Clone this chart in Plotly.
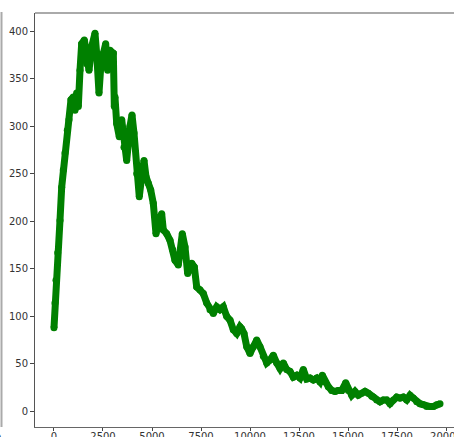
import plotly.graph_objects as go

x_vals = [0, 51, 102, 189, 306, 393, 474, 561, 679, 765, 867, 985, 1071, 1156, 1241, 1327,
          1412, 1547, 1667, 1786, 1922, 2092, 2177, 2296, 2398, 2517, 2636, 2738, 2857, 3027,
          3078, 3112, 3199, 3332, 3454, 3571, 3709, 3878, 3980, 4082, 4219, 4352, 4474, 4592,
          4694, 4811, 4934, 5066, 5204, 5372, 5495, 5577, 5750, 5918, 6056, 6173, 6342, 6546,
          6684, 6821, 7026, 7160, 7281, 7449, 7617, 7791, 7959, 8128, 8301, 8469, 8638, 8811,
          8980, 9148, 9321, 9490, 9575, 9694, 9832, 10000, 10168, 10342, 10510, 10679, 10852,
          11020, 11189, 11362, 11531, 11699, 11872, 12041, 12209, 12383, 12551, 12719, 12893,
          13061, 13230, 13403, 13571, 13689, 13827, 13995, 14168, 14337, 14505, 14679, 14883,
          15015, 15189, 15357, 15526, 15699, 15867, 16036, 16209, 16291, 16464, 16633, 16801,
          16974, 17143, 17311, 17485, 17653, 17821, 17995, 18163, 18332, 18505, 18673, 18842,
          19015, 19184, 19352, 19520, 19694]
y_vals = [88, 114, 138, 167, 201, 236, 254, 272, 296, 307, 328, 331, 317, 335, 321, 359,
          387, 391, 366, 359, 384, 398, 377, 335, 366, 377, 387, 359, 380, 377,
          321, 331, 303, 289, 307, 278, 264, 300, 312, 293, 250, 226, 247, 264,
          247, 240, 233, 219, 187, 201, 208, 191, 187, 180, 170, 159, 154, 187,
          173, 145, 156, 152, 131, 128, 124, 114, 107, 103, 110, 107, 110, 100,
          96, 86, 82, 89, 87, 82, 68, 61, 68, 75, 68, 58, 51,
          54, 59, 51, 45, 51, 44, 42, 36, 38, 35, 44, 34,
          35, 33, 35, 31, 38, 31, 26, 22, 21, 22, 22, 30,
          22, 17, 21, 17, 19, 21, 19, 16, 15, 12, 10, 12,
          12, 8, 12, 15, 14, 15, 12, 17, 14, 10, 8, 7,
          5, 5, 5, 7, 8]

x_ticks = [0, 2500, 5000, 7500, 10000, 12500, 15000, 17500, 20000]
y_ticks = [0, 50, 100, 150, 200, 250, 300, 350, 400]

fig = go.Figure()
fig.add_trace(go.Scatter(
    x=x_vals, y=y_vals, mode="lines+markers",
    line=dict(color="#008000", width=7),
    marker=dict(color="#008000", size=7),
    showlegend=False,
))

W, H = 454, 437
L, R, T, B = 35, 0, 13, 10
pw = W - L - R
ph = H - T - B

fig.update_layout(
    width=W, height=H,
    margin=dict(l=L, r=R, t=T, b=B, pad=0),
    paper_bgcolor="white", plot_bgcolor="white",
    font=dict(family="DejaVu Sans", size=10, color="#333333"),
    template="none",
    xaxis=dict(range=[-969, 20408], tickvals=x_ticks, ticktext=[str(v) for v in x_ticks],
               showgrid=False, zeroline=False, showline=True, linecolor="#666666",
               linewidth=1, ticks="outside", ticklen=3, tickcolor="#444444",
               ticklabelstandoff=-3, ticklabeloverflow="allow", automargin=False),
    yaxis=dict(range=[-16.5, 419.3], tickvals=y_ticks, ticktext=[str(v) for v in y_ticks],
               showgrid=False, zeroline=False, showline=True, linecolor="#555555",
               linewidth=1, ticks="outside", ticklen=4, tickcolor="#444444",
               automargin=False),
    shapes=[
        dict(type="line", xref="paper", yref="paper", x0=0, x1=1, y0=1, y1=1,
             line=dict(color="#aaaaaa", width=2)),
        dict(type="line", xref="paper", yref="paper",
             x0=(1.5 - L) / pw, x1=(1.5 - L) / pw,
             y0=0, y1=1 + 1.0 / ph,
             line=dict(color="#aaaaaa", width=2)),
    ],
    annotations=[
        dict(text="0", xref="paper", yref="paper", x=(3.5 - L) / pw, y=-4.0 / ph,
             xanchor="right", yanchor="top", showarrow=False,
             font=dict(family="DejaVu Sans", size=10, color="#333333")),
    ],
)

fig.write_html("out.html", config={"displayModeBar": False},
               post_script="document.body.style.margin='0';document.body.style.overflow='hidden';")
